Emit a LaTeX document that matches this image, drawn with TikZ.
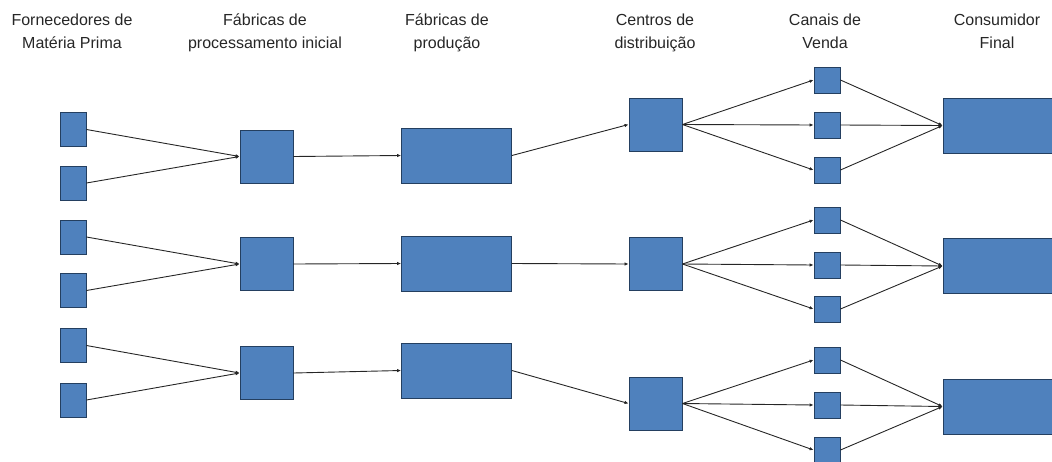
\documentclass[tikz,border=0pt]{standalone}
\usepackage{fontspec}
\setmainfont{Liberation Sans}
\usetikzlibrary{arrows.meta}
\definecolor{boxfill}{HTML}{4F81BD}
\definecolor{boxline}{HTML}{243F60}
\definecolor{wire}{HTML}{262626}
\tikzset{
  blk/.style={draw=boxline, line width=0.9pt, fill=boxfill, inner sep=0pt, minimum width=#1},
  sup/.style={blk=26pt, minimum height=34pt},
  proc/.style={blk=53pt, minimum height=53pt},
  prod/.style={blk=110pt, minimum height=55pt},
  chan/.style={blk=26pt, minimum height=26pt},
  cons/.style={blk=110pt, minimum height=55pt},
  head/.style={font=\fontsize{16}{22.5}\selectfont, align=center, anchor=base, inner sep=0pt, text=black!85},
  link/.style={draw=wire, line width=0.9pt, -{Latex[length=4pt,width=3.5pt]}}
}
\begin{document}
\begin{tikzpicture}[x=1pt,y=-1pt]
\useasboundingbox (0,0) rectangle (1052,461);
% headers
\node[head] (h1) at (72,48) {Fornecedores de\\Matéria Prima};
\node[head] (h2) at (265,48) {Fábricas de\\processamento inicial};
\node[head] (h3) at (447,48) {Fábricas de\\produção};
\node[head] (h4) at (655,48) {Centros de\\distribuição};
\node[head] (h5) at (825,48) {Canais de\\Venda};
\node[head] (h6) at (997,48) {Consumidor\\Final};
% suppliers
\node[sup] (s1) at (73,129.5) {};
\node[sup] (s2) at (73,183) {};
\node[sup] (s3) at (73,237) {};
\node[sup] (s4) at (73,290.5) {};
\node[sup] (s5) at (73,345.5) {};
\node[sup] (s6) at (73,400) {};
% initial processing
\node[proc] (p1) at (266.5,156.5) {};
\node[proc] (p2) at (266.5,264) {};
\node[proc] (p3) at (266.5,373) {};
% production
\node[prod] (f1) at (456.5,155.5) {};
\node[prod] (f2) at (456.5,263.5) {};
\node[prod] (f3) at (456.5,370.5) {};
% distribution
\node[proc] (d1) at (655.5,124.5) {};
\node[proc] (d2) at (655.5,264) {};
\node[proc] (d3) at (655.5,403.5) {};
% channels
\node[chan] (c1) at (827,80) {};
\node[chan] (c2) at (827,125) {};
\node[chan] (c3) at (827,170) {};
\node[chan] (c4) at (827,220) {};
\node[chan] (c5) at (827,265) {};
\node[chan] (c6) at (827,309) {};
\node[chan] (c7) at (827,360) {};
\node[chan] (c8) at (827,405) {};
\node[chan] (c9) at (827,450) {};
% consumers
\node[cons] (e1) at (998,125.5) {};
\node[cons] (e2) at (998,266) {};
\node[cons] (e3) at (998,406.5) {};
% links
\draw[link] (s1.east) -- (p1.west);
\draw[link] (s2.east) -- (p1.west);
\draw[link] (s3.east) -- (p2.west);
\draw[link] (s4.east) -- (p2.west);
\draw[link] (s5.east) -- (p3.west);
\draw[link] (s6.east) -- (p3.west);
\draw[link] (p1.east) -- (f1.west);
\draw[link] (p2.east) -- (f2.west);
\draw[link] (p3.east) -- (f3.west);
\draw[link] (f1.east) -- (d1.west);
\draw[link] (f2.east) -- (d2.west);
\draw[link] (f3.east) -- (d3.west);
\draw[link] (d1.east) -- (c1.west);
\draw[link] (d1.east) -- (c2.west);
\draw[link] (d1.east) -- (c3.west);
\draw[link] (d2.east) -- (c4.west);
\draw[link] (d2.east) -- (c5.west);
\draw[link] (d2.east) -- (c6.west);
\draw[link] (d3.east) -- (c7.west);
\draw[link] (d3.east) -- (c8.west);
\draw[link] (d3.east) -- (c9.west);
\draw[link] (c1.east) -- (e1.west);
\draw[link] (c2.east) -- (e1.west);
\draw[link] (c3.east) -- (e1.west);
\draw[link] (c4.east) -- (e2.west);
\draw[link] (c5.east) -- (e2.west);
\draw[link] (c6.east) -- (e2.west);
\draw[link] (c7.east) -- (e3.west);
\draw[link] (c8.east) -- (e3.west);
\draw[link] (c9.east) -- (e3.west);
\end{tikzpicture}
\end{document}
